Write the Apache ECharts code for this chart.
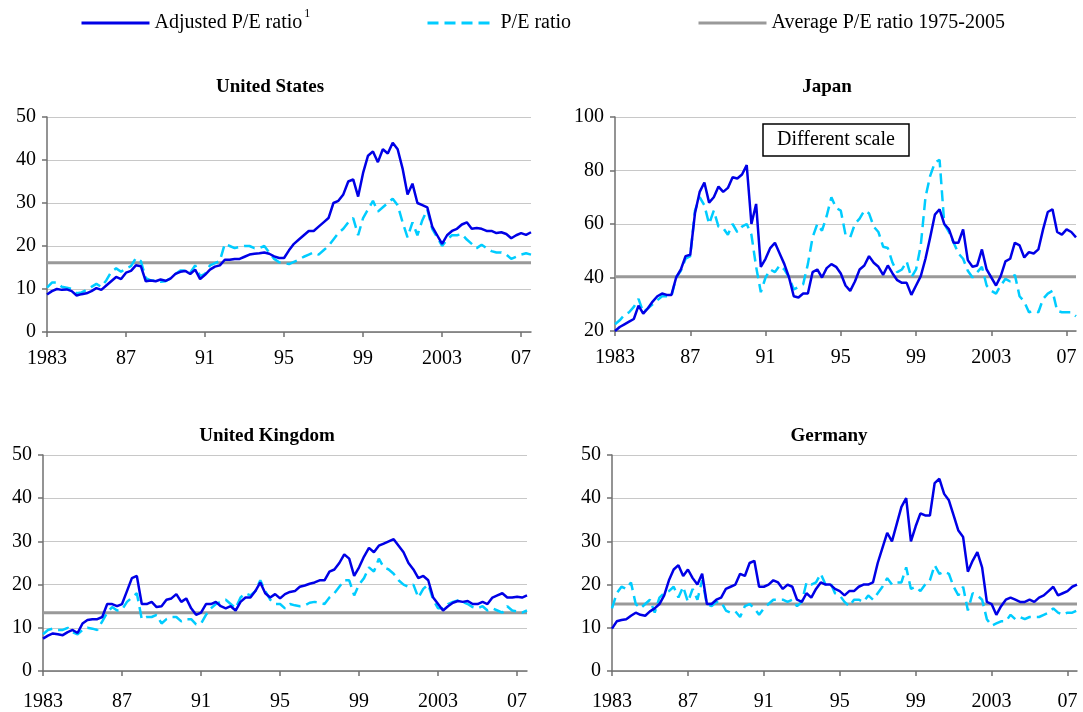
<!DOCTYPE html>
<html>
<head>
<meta charset="utf-8">
<title>P/E ratios</title>
<script src="https://cdn.jsdelivr.net/npm/echarts@6/dist/echarts.min.js"></script>
<style>
  html, body { margin: 0; padding: 0; background: #fff; }
  #main { width: 1083px; height: 712px; }
</style>
</head>
<body>
<div id="main"></div>
<script>
// quarterly readings, 1983 Q1 .. 2007 Q3 (x = years since 1983)
const xTickLabels = ['1983', '87', '91', '95', '99', '2003', '07'];
const countries = ['United States', 'Japan', 'United Kingdom', 'Germany'];
const averages = [16.1, 40.3, 13.5, 15.5];

const usAdjusted = [
  8.7, 9.5, 10.0, 9.8,   9.9, 9.5, 8.5, 8.8,   9.0, 9.5, 10.2, 9.8,   10.8, 11.8, 12.8, 12.3,
  13.8, 14.2, 15.5, 15.3,   11.8, 12.0, 11.8, 12.2,   11.9, 12.4, 13.5, 14.0,   14.2, 13.5, 14.5, 12.3,
  13.3, 14.5, 15.2, 15.5,   16.8, 16.8, 17.0, 17.0,   17.5, 18.0, 18.2, 18.3,   18.5, 18.2, 17.6, 17.2,
  17.2, 19.0, 20.5, 21.5,   22.5, 23.5, 23.5, 24.5,   25.5, 26.5, 30.0, 30.5,   32.0, 35.0, 35.5, 31.5,
  37.0, 41.0, 42.0, 39.5,   42.5, 41.5, 44.0, 42.5,   38.0, 32.0, 34.5, 30.0,   29.5, 29.0, 24.5, 22.5,
  20.5, 22.5, 23.5, 24.0,   25.0, 25.5, 24.0, 24.2,   24.0, 23.5, 23.5, 23.0,   23.2, 22.8, 21.8, 22.5,
  23.0, 22.6, 23.2
];
const usPE = [
  10.3, 11.5, 11.5, 10.5,   10.3, 10.0, 9.0, 9.2,   9.8, 10.5, 11.2, 10.5,   12.0, 14.0, 14.8, 14.0,
  14.8, 15.3, 17.2, 16.5,   12.5, 12.0, 12.0, 11.7,   11.8, 12.5, 13.5, 14.3,   14.3, 13.8, 15.5, 13.0,
  13.5, 15.5, 16.0, 16.5,   20.5, 20.0, 19.5, 19.8,   20.0, 20.0, 19.5, 19.5,   20.0, 18.5, 17.0, 16.2,
  16.0, 15.8, 16.3, 16.8,   17.5, 18.0, 18.5, 18.0,   19.0, 20.0, 21.5, 23.0,   24.0, 25.5, 26.5, 22.5,
  26.5, 28.5, 30.5, 28.0,   29.0, 30.0, 31.0, 29.5,   25.5, 22.0, 25.5, 22.5,   26.0, 28.5, 24.0, 22.0,
  20.0, 21.5, 22.5, 22.5,   22.8, 21.5, 20.5, 19.5,   20.3, 19.5, 18.8, 18.5,   18.5, 18.0, 17.0, 17.5,
  18.0, 18.3, 18.0
];
const jpAdjusted = [
  20.0, 21.5, 22.5, 23.5,   24.5, 29.5, 26.5, 28.5,   31.0, 33.0, 34.0, 33.5,   33.5, 40.0, 43.0, 48.0,
  48.5, 64.0, 72.0, 75.5,   68.0, 70.0, 74.0, 72.0,   73.5, 77.5, 77.0, 78.5,   82.0, 60.0, 67.5, 44.0,
  47.0, 51.0, 53.0, 49.0,   45.0, 40.0, 33.0, 32.5,   34.0, 34.0, 42.0, 43.0,   40.0, 43.5, 45.0, 44.0,
  41.5, 37.0, 35.0, 38.5,   43.0, 44.5, 48.0, 45.5,   44.0, 41.0, 44.5, 41.5,   39.0, 38.0, 38.0, 33.5,
  37.0, 40.5, 47.0, 55.0,   63.5, 65.5, 60.0, 58.0,   53.0, 53.0, 58.0, 46.5,   44.0, 44.5, 50.5, 43.0,
  40.0, 37.0, 40.5, 46.0,   47.0, 53.0, 52.0, 47.5,   49.5, 49.0, 50.5, 58.0,   64.5, 65.5, 57.0, 56.0,
  58.0, 57.0, 55.0
];
const jpPE = [
  22.5, 24.0, 26.0, 27.0,   29.0, 32.0, 27.0, 28.5,   30.0, 31.5, 33.0, 33.0,   33.0, 40.0, 42.5, 47.0,
  48.0, 65.0, 70.0, 67.0,   60.0, 65.0, 59.0, 58.5,   56.0, 60.0, 57.0, 59.0,   60.0, 56.0, 44.0, 34.5,
  40.0, 43.0, 42.0, 44.5,   43.0, 40.0, 35.5, 36.5,   37.5, 45.0, 55.0, 60.0,   57.5, 63.0, 70.0, 66.0,
  65.0, 56.0, 55.0, 60.0,   62.0, 65.0, 64.0, 59.0,   57.0, 51.5, 51.0, 45.5,   42.0, 43.0, 46.0, 40.0,
  43.0, 52.0, 70.0, 78.0,   83.0, 84.0, 60.0, 57.0,   53.0, 49.0, 47.0, 42.5,   40.0, 42.0, 44.0, 37.0,
  35.0, 34.0, 37.0, 39.5,   38.5, 41.0, 33.0, 31.0,   27.0, 27.5, 27.0, 32.0,   34.0, 35.0, 27.5, 27.0,
  27.0, 27.0, 25.5
];
const ukAdjusted = [
  7.5, 8.2, 8.7, 8.5,   8.3, 9.0, 9.5, 8.8,   11.0, 11.8, 12.0, 12.0,   12.5, 15.5, 15.5, 15.0,
  15.5, 18.5, 21.5, 22.0,   15.5, 15.5, 16.0, 14.8,   15.0, 16.5, 16.8, 17.8,   16.0, 16.8, 14.5, 13.0,
  13.5, 15.5, 15.5, 16.0,   15.0, 14.5, 15.0, 14.0,   16.0, 17.0, 17.0, 18.5,   20.5, 18.0, 17.0, 17.8,
  16.8, 17.8, 18.3, 18.5,   19.5, 19.8, 20.2, 20.5,   21.0, 21.0, 23.0, 23.5,   25.0, 27.0, 26.0, 22.0,
  24.0, 26.5, 28.5, 27.5,   29.0, 29.5, 30.0, 30.5,   29.0, 27.5, 25.0, 23.5,   21.5, 22.0, 21.0, 17.0,
  15.5, 14.0, 15.0, 15.8,   16.2, 16.0, 16.2, 15.5,   15.5, 16.0, 15.5, 17.0,   17.5, 18.0, 17.0, 17.0,
  17.2, 17.0, 17.5
];
const ukPE = [
  8.5, 9.5, 9.8, 9.5,   9.5, 10.0, 9.0, 8.5,   9.5, 10.0, 9.8, 9.5,   11.5, 13.5, 14.8, 14.0,
  14.2, 16.0, 17.0, 18.0,   12.0, 12.5, 12.5, 13.0,   11.0, 12.0, 12.5, 12.5,   11.5, 12.0, 12.0, 10.8,
  11.0, 13.0, 14.5, 15.5,   16.0, 16.5, 15.5, 14.5,   17.0, 18.0, 17.5, 18.5,   21.0, 18.5, 16.5, 15.5,
  15.5, 14.5, 15.5, 15.2,   15.0, 15.2, 15.8, 16.0,   15.8, 15.5, 17.0, 18.0,   19.5, 21.0, 21.0, 17.5,
  20.0, 21.5, 24.0, 23.0,   26.0, 24.0, 23.5, 22.5,   21.0, 20.0, 19.5, 20.0,   17.0, 19.0, 20.0, 16.5,
  14.5, 14.5, 15.5, 16.0,   16.3, 16.0, 15.5, 14.8,   14.5, 15.0, 14.0, 14.5,   14.0, 13.5, 15.0, 14.0,
  13.8, 13.5, 14.0
];
const deAdjusted = [
  9.8, 11.5, 11.8, 12.0,   12.8, 13.5, 13.0, 12.8,   13.8, 14.5, 15.5, 17.5,   21.0, 23.5, 24.5, 22.0,
  23.5, 21.5, 20.0, 22.5,   15.5, 15.5, 16.5, 17.0,   19.0, 19.5, 20.0, 22.5,   22.0, 25.0, 25.5, 19.5,
  19.5, 20.0, 21.0, 20.5,   19.0, 20.0, 19.5, 16.5,   16.0, 18.0, 17.0, 19.0,   20.5, 20.0, 20.0, 19.0,
  18.5, 17.5, 18.5, 18.5,   19.5, 20.0, 20.0, 20.5,   25.0, 28.5, 32.0, 30.0,   34.0, 38.0, 40.0, 30.0,
  33.5, 36.5, 36.0, 36.0,   43.5, 44.5, 41.0, 39.5,   36.0, 32.5, 31.0, 23.0,   25.5, 27.5, 24.0, 16.0,
  15.5, 13.0, 15.0, 16.5,   17.0, 16.5, 16.0, 16.0,   16.5, 16.0, 17.0, 17.5,   18.5, 19.5, 17.5, 18.0,
  18.5, 19.5, 20.0
];
const dePE = [
  14.5, 18.0, 19.5, 19.0,   20.5, 15.5, 14.5, 15.5,   16.5, 13.5, 17.0, 18.0,   18.5, 19.5, 17.0, 19.5,
  16.0, 19.0, 16.5, 21.0,   15.5, 15.0, 16.0, 16.0,   14.0, 13.5, 13.8, 12.5,   15.0, 15.5, 14.5, 13.0,
  14.5, 15.5, 16.5, 16.5,   16.5, 16.0, 16.5, 15.0,   16.0, 20.5, 20.0, 20.5,   22.5, 20.0, 20.5, 18.0,
  17.5, 16.0, 15.0, 16.5,   16.5, 16.0, 17.5, 16.5,   18.0, 19.5, 21.5, 20.0,   20.5, 20.5, 24.0, 19.0,
  19.5, 18.5, 20.0, 21.0,   24.5, 22.5, 23.0, 22.5,   19.5, 17.5, 19.5, 14.0,   18.0, 17.5, 16.5, 12.0,
  10.5, 11.0, 11.5, 11.5,   13.0, 12.0, 12.5, 12.0,   12.5, 12.5, 12.5, 13.0,   13.5, 14.5, 13.5, 13.0,
  13.5, 13.5, 14.0
];

const adjusted = [usAdjusted, jpAdjusted, ukAdjusted, deAdjusted];
const peRatio = [usPE, jpPE, ukPE, dePE];

const font = 'Liberation Serif';
const xMax = 24.5;
const tickPos = [0, 4, 8, 12, 16, 20, 24];

const layout = [
  {grid: {left: 47, top: 117, width: 484, height: 215}, y: [0, 50, 10], title: [270, 78], labelGap: 17},
  {grid: {left: 615, top: 117, width: 461, height: 214}, y: [20, 100, 20], title: [827, 78], labelGap: 17},
  {grid: {left: 43, top: 455, width: 484, height: 217}, y: [0, 50, 10], title: [267, 427], labelGap: 21},
  {grid: {left: 612, top: 455, width: 465, height: 218}, y: [0, 50, 10], title: [829, 427], labelGap: 21}
];

function quarterly(values) {
  return values.map((v, i) => [i / 4, v]);
}

const axisLineStyle = {color: '#707070', width: 1.5};
const grids = [], xAxes = [], yAxes = [], series = [], titles = [];

layout.forEach((p, i) => {
  grids.push(p.grid);
  titles.push({
    text: countries[i], left: p.title[0], top: p.title[1], textAlign: 'center', padding: 0,
    textStyle: {fontFamily: font, fontSize: 19, fontWeight: 'bold', color: '#000'}
  });
  xAxes.push({
    gridIndex: i, type: 'value', min: 0, max: xMax, interval: 4,
    axisLine: {show: true, onZero: false, lineStyle: axisLineStyle},
    axisTick: {show: true, length: 5, customValues: tickPos, lineStyle: axisLineStyle},
    axisLabel: {
      customValues: tickPos, margin: p.labelGap, fontFamily: font, fontSize: 20, color: '#000',
      formatter: v => xTickLabels[Math.round(v / 4)]
    },
    splitLine: {show: false}
  });
  yAxes.push({
    gridIndex: i, type: 'value', min: p.y[0], max: p.y[1], interval: p.y[2],
    axisLine: {show: true, lineStyle: axisLineStyle},
    axisTick: {show: true, length: 5, lineStyle: axisLineStyle},
    axisLabel: {margin: 11, fontFamily: font, fontSize: 20, color: '#000'},
    splitLine: {lineStyle: {color: '#c8c8c8', width: 1}}
  });
  series.push({
    name: 'Average P/E ratio 1975-2005', type: 'line', xAxisIndex: i, yAxisIndex: i,
    data: [[0, averages[i]], [xMax, averages[i]]], symbol: 'none', z: 1,
    lineStyle: {color: '#999999', width: 3}, itemStyle: {color: '#999999'}
  });
  series.push({
    name: 'P/E ratio', type: 'line', xAxisIndex: i, yAxisIndex: i,
    data: quarterly(peRatio[i]), symbol: 'none', z: 2,
    lineStyle: {color: '#00ccff', width: 2.5, type: [11, 6]}, itemStyle: {color: '#00ccff'}
  });
  series.push({
    name: 'Adjusted P/E ratio', type: 'line', xAxisIndex: i, yAxisIndex: i,
    data: quarterly(adjusted[i]), symbol: 'none', z: 3,
    lineStyle: {color: '#0000e6', width: 2.5}, itemStyle: {color: '#0000e6'}
  });
});

titles.push({
  text: 'Different scale', left: 763, top: 124, padding: [5, 14],
  borderColor: '#000', borderWidth: 1.5,
  textStyle: {fontFamily: font, fontSize: 20, fontWeight: 'normal', color: '#000', lineHeight: 22}
});

const legendBase = {
  top: 13, padding: 0, itemWidth: 68, itemHeight: 14, selectedMode: false,
  itemStyle: {color: 'rgba(0,0,0,0)', borderWidth: 0, opacity: 0},
  lineStyle: {width: 3},
  textStyle: {fontFamily: font, fontSize: 20, color: '#000', lineHeight: 20}
};

const option = {
  animation: false,
  backgroundColor: '#fff',
  title: titles,
  legend: [
    Object.assign({}, legendBase, {
      left: 80, top: 8, data: ['Adjusted P/E ratio'],
      formatter: name => '{a|' + name + '}{s|1}',
      textStyle: {
        fontFamily: font, fontSize: 20, color: '#000',
        rich: {
          a: {fontFamily: font, fontSize: 20, lineHeight: 20, color: '#000'},
          s: {fontFamily: font, fontSize: 12, lineHeight: 12, color: '#000', padding: [0, 0, 18, 2]}
        }
      }
    }),
    Object.assign({}, legendBase, {left: 426, data: ['P/E ratio']}),
    Object.assign({}, legendBase, {left: 697, data: ['Average P/E ratio 1975-2005']})
  ],
  grid: grids,
  xAxis: xAxes,
  yAxis: yAxes,
  series: series
};

echarts.init(document.getElementById('main')).setOption(option);
</script>
</body>
</html>
